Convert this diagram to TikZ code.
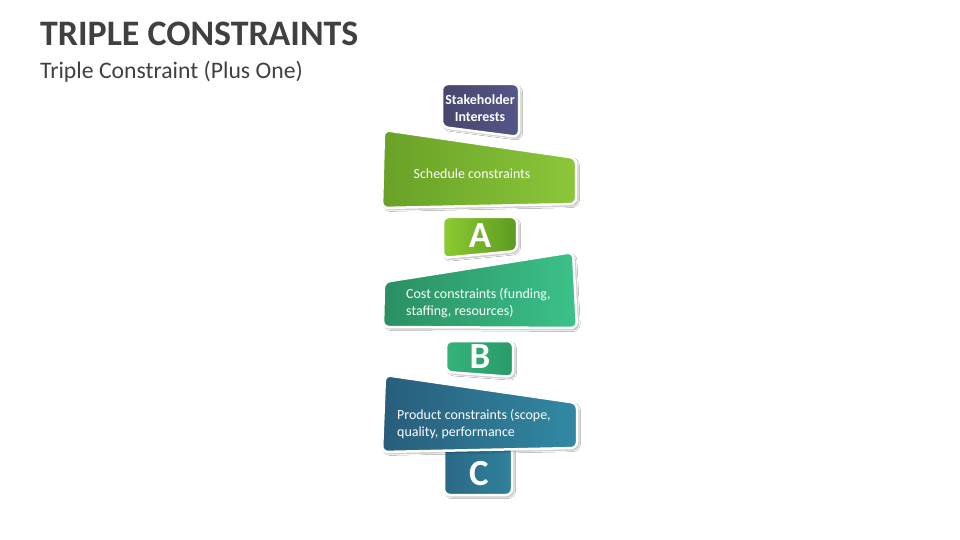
\documentclass[tikz,border=0pt]{standalone}
\usepackage{fontspec}
\setmainfont{Carlito}
\usetikzlibrary{shadows.blur}

\definecolor{headgray}{HTML}{404040}
\definecolor{slateL}{HTML}{47466D}
\definecolor{slateR}{HTML}{555689}
\definecolor{limeL}{HTML}{68A126}
\definecolor{limeR}{HTML}{8CC63A}
\definecolor{aL}{HTML}{8CCB30}
\definecolor{aR}{HTML}{5C9A21}
\definecolor{jadeL}{HTML}{2A8F62}
\definecolor{jadeR}{HTML}{3BC289}
\definecolor{bL}{HTML}{35B27B}
\definecolor{bR}{HTML}{2A9B69}
\definecolor{tealL}{HTML}{285D7B}
\definecolor{tealR}{HTML}{3189A3}
\definecolor{cL}{HTML}{2A6886}
\definecolor{cR}{HTML}{30829B}

\tikzset{
  plate/.style={draw=white, line width=2.5bp, rounded corners=6bp,
    blur shadow={shadow xshift=2bp, shadow yshift=-2bp,
      shadow blur radius=1.5bp, shadow opacity=30}},
  platetext/.style={white, inner sep=0pt, align=left,
    font=\fontsize{14}{16.7}\selectfont},
  lettertext/.style={white, inner sep=0pt,
    font=\fontsize{37}{37}\selectfont\bfseries},
}

\begin{document}
\begin{tikzpicture}[x=1bp, y=-1bp]
	\useasboundingbox[fill=white] (0,0) rectangle (960,540);

	% heading
	\node [headgray, anchor=base west, inner sep=0pt,
	font=\fontsize{36}{36}\selectfont\bfseries] (title) at (40,46)
	{TRIPLE CONSTRAINTS};
	\node [headgray, anchor=base west, inner sep=0pt,
	font=\fontsize{23.8}{24}\selectfont] (subtitle) at (40,79)
	{Triple Constraint (Plus One)};

	% stakeholder tab
	\draw [plate, left color=slateL, right color=slateR]
	(442,84) -- (519,84) -- (519,137) -- (442,127) -- cycle;
	\node [platetext, align=center,
	font=\fontsize{14}{16.7}\selectfont\bfseries] (stake) at (480,108)
	{Stakeholder\\Interests};

	% schedule
	\draw [plate, left color=limeL, right color=limeR]
	(384,130) -- (576,158) -- (576,204) -- (382,208) -- cycle;
	\node [platetext] (schedule) at (472,174) {Schedule constraints};

	\draw [plate, left color=aL, right color=aR]
	(443,217) -- (517,217) -- (517,251) -- (443,258) -- cycle;
	\node [lettertext] (a) at (480,236) {A};

	% cost
	\draw [plate, left color=jadeL, right color=jadeR]
	(384,282) -- (573,252) -- (577,328) -- (383,327) -- cycle;
	\node [platetext, anchor=west] (cost) at (406,303)
	{Cost constraints (funding,\\staffing, resources)};

	\draw [plate, left color=bL, right color=bR]
	(446,341) -- (513,341) -- (513,377) -- (446,372) -- cycle;
	\node [lettertext] (b) at (480,357) {B};

	% product (drawn over C)
	\draw [plate, left color=cL, right color=cR]
	(444,440) rectangle (512,495);
	\node [lettertext] (c) at (479,474) {C};

	\draw [plate, left color=tealL, right color=tealR]
	(385,375) -- (577,403) -- (577,448) -- (382,452) -- cycle;
	\node [platetext, anchor=west] (product) at (397,424)
	{Product constraints (scope,\\quality, performance};
\end{tikzpicture}
\end{document}
